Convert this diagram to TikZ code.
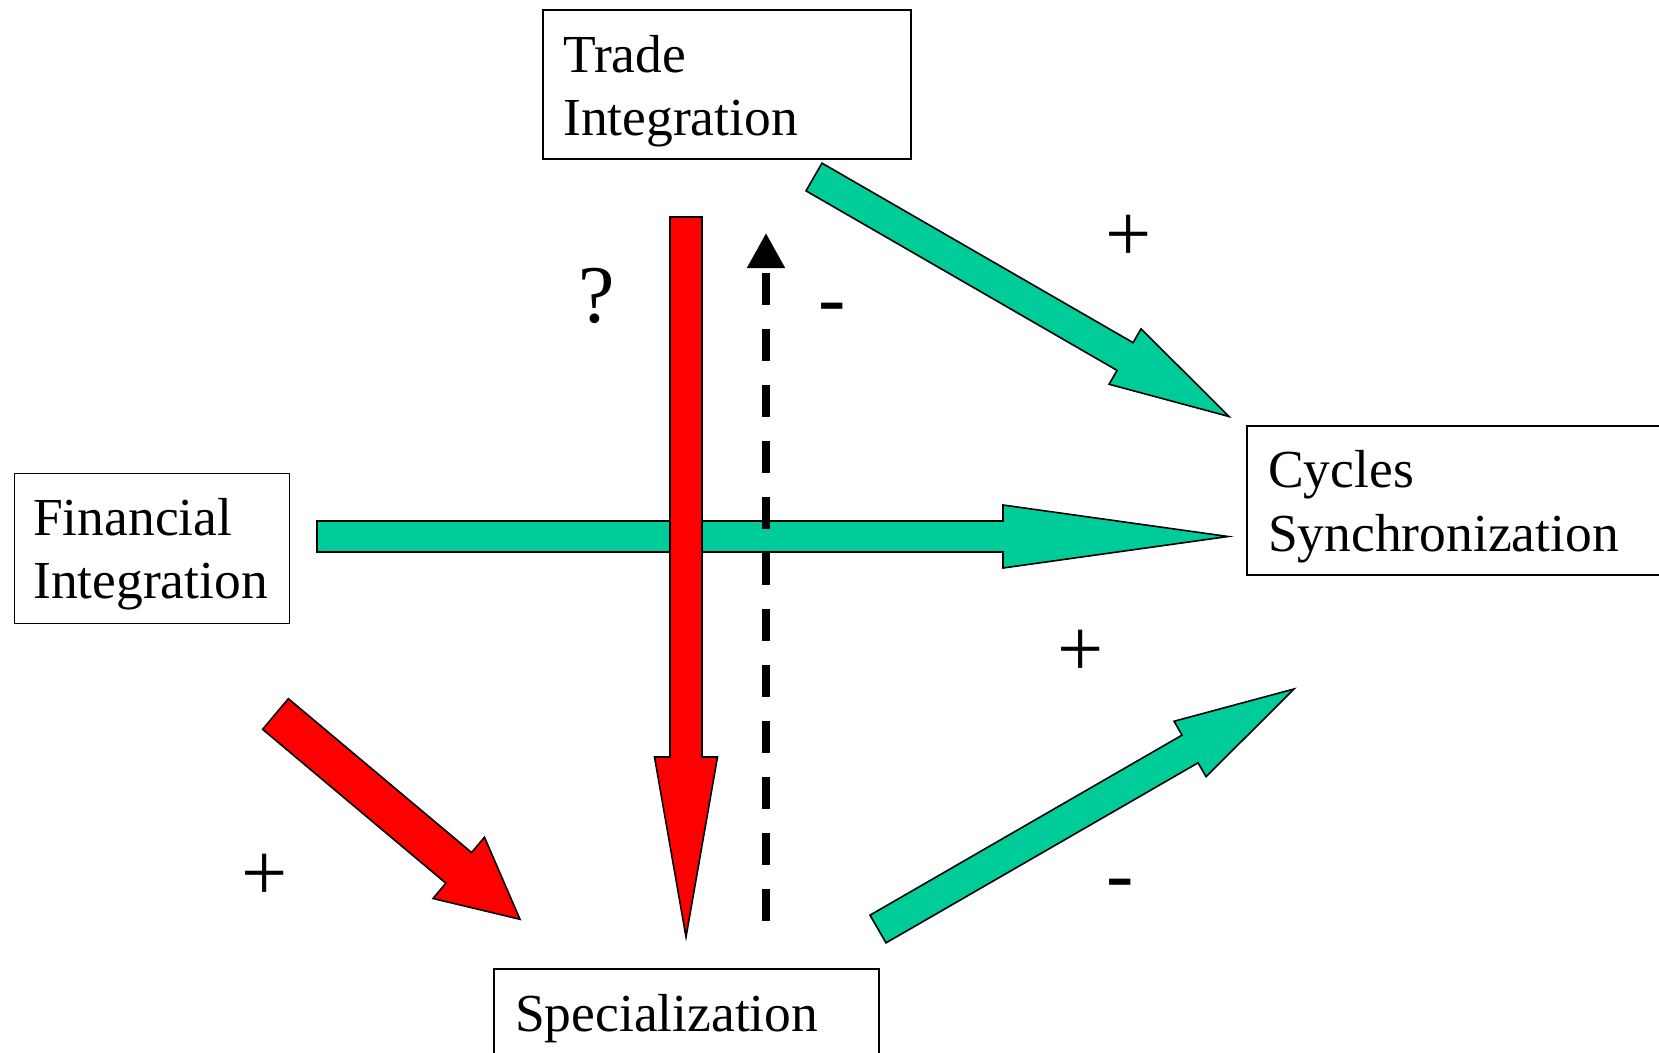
\documentclass[tikz,border=0pt]{standalone}
\usepackage{fontspec}
\setmainfont{Liberation Serif}
\usetikzlibrary{calc,arrows.meta}
\definecolor{tealgreen}{RGB}{0,204,153}
\definecolor{pured}{RGB}{255,0,0}
% block arrow: style, tail, tip, half shaft width, half head width, head length
\newcommand\blkarrow[6]{%
  \coordinate (#2-base) at ($(#3)!#6!(#2)$);
  \filldraw[#1] ($(#2)!#4!90:(#3)$) -- ($(#2-base)!#4!90:(#3)$) -- ($(#2-base)!#5!90:(#3)$) -- (#3)
     -- ($(#2-base)!#5!-90:(#3)$) -- ($(#2-base)!#4!-90:(#3)$) -- ($(#2)!#4!-90:(#3)$) -- cycle;
}
\begin{document}
\begin{tikzpicture}[x=1pt,y=-1pt,
  boxframe/.style={draw=black, line width=1.5pt, anchor=north west, inner sep=0pt},
  boxtext/.style={font=\fontsize{53.5}{63}\selectfont, inner sep=0pt, anchor=base west},
  sign/.style={font=\fontsize{82}{90}\selectfont, inner sep=0pt},
  greenarrow/.style={fill=tealgreen, draw=black, line width=1.6pt, line join=miter},
  redarrow/.style={fill=pured, draw=black, line width=1.6pt, line join=miter},
  dasharrow/.style={line width=8pt, dash pattern=on 32pt off 24pt, -{Triangle[width=36pt,length=35pt]}}]
\clip (0,0) rectangle (1659,1052);
\fill[white] (0,0) rectangle (1659,1052);

% boxes
\node[boxframe, minimum width=368pt, minimum height=149pt] (tradebox) at (542,9) {};
\node[boxframe, minimum width=275pt, minimum height=150pt] (finbox) at (13.5,472.5) {};
\node[boxframe, minimum width=440pt, minimum height=149pt] (cycbox) at (1246,425) {};
\node[boxframe, minimum width=385pt, minimum height=120pt] (specbox) at (493,968) {};

\node[boxtext] (trade) at (563,72) {\vtop{\hbox{Trade}\hbox{Integration}}};
\node[boxtext] (fin) at (33,535) {\vtop{\hbox{Financial}\hbox{Integration}}};
\node[boxtext] (cyc) at (1268,487) {\vtop{\baselineskip=64pt\hbox{Cycles}\hbox{Synchronization}}};
\node[boxtext] (spec) at (515,1031) {Specialization};

% arrow end points
\coordinate (tiTail) at (814,177);   \coordinate (tiTip) at (1229,416.5);
\coordinate (fiTail) at (317,536.5); \coordinate (fiTip) at (1228,536.5);
\coordinate (tsTail) at (686,217);   \coordinate (tsTip) at (686,937);
\coordinate (fsTail) at (275.5,714); \coordinate (fsTip) at (520,919.3);
\coordinate (scTail) at (878,929);   \coordinate (scTip) at (1294,689);
\coordinate (stTail) at (766,921);   \coordinate (stTip) at (766,233);

\blkarrow{greenarrow}{fiTail}{fiTip}{15.5pt}{31.5pt}{225pt}
\blkarrow{greenarrow}{tiTail}{tiTip}{16pt}{32pt}{120pt}
\blkarrow{greenarrow}{scTail}{scTip}{16pt}{32pt}{120pt}
\blkarrow{redarrow}{fsTail}{fsTip}{20pt}{40pt}{80pt}
\blkarrow{redarrow}{tsTail}{tsTip}{16pt}{31.5pt}{180pt}
\draw[dasharrow] (stTail) -- (stTip);

% signs
\node[sign] (q) at (597,296) {?};
\node[sign] (p1) at (1129,238) {+};
\node[sign] (p2) at (1081,653.5) {+};
\node[sign] (p3) at (265,877.5) {+};
\node[sign, anchor=base] (m1) at (832,325) {-};
\node[sign, anchor=base] (m2) at (1120,901) {-};
\end{tikzpicture}
\end{document}
